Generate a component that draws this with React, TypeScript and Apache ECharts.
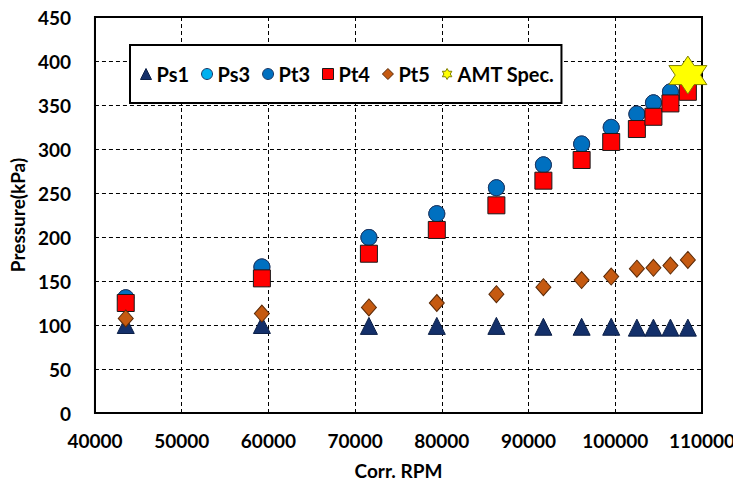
import React, { useEffect, useRef } from "react";
import * as echarts from "echarts";

const rpm = [43550, 59250, 71590, 79420, 86290, 91710, 96120, 99530, 102490, 104400, 106360, 108370];
const ps1 = [100, 100, 99, 99, 99, 98, 98, 98, 97, 97, 97, 97];
const ps3 = [131, 166, 199.5, 226.5, 256, 282, 305.7, 324.6, 339.7, 352.5, 365, 378];
const pt3 = [131, 166, 199.5, 226.5, 256, 282, 305.7, 324.6, 339.7, 352.5, 365, 378];
const pt4 = [125, 153, 181, 208, 236, 264, 287.5, 308, 322.7, 336.6, 351.8, 365];
const pt5 = [107.5, 113, 120, 125, 135, 143, 151, 155, 164, 165, 167.5, 174];
const amtRpm = [108370];
const amtVal = [384];

const xTicks = [40000, 50000, 60000, 70000, 80000, 90000, 100000, 110000];
const yTicks = [0, 50, 100, 150, 200, 250, 300, 350, 400, 450];

const STAR =
  "path://M10,0 L12.887,5 L18.66,5 L15.774,10 L18.66,15 L12.887,15 L10,20 L7.113,15 L1.34,15 L4.226,10 L1.34,5 L7.113,5 Z";

const FONT = "Lato";

function pairs(xs: number[], ys: number[]) {
  return xs.map((x, i) => [x, ys[i]]);
}

export default function App() {
  const ref = useRef<HTMLDivElement>(null);
  useEffect(() => {
    const chart = echarts.init(ref.current!, null, { renderer: "svg" });
    const mk = (name: string, data: number[][], symbol: string, size: any, color: string, border: string) => ({
      name,
      type: "scatter",
      data,
      symbol,
      symbolSize: size,
      itemStyle: { color, borderColor: border, borderWidth: 1, opacity: 1 },
      emphasis: { disabled: true },
    });
    chart.setOption({
      animation: false,
      backgroundColor: "#ffffff",
      textStyle: { fontFamily: FONT },
      grid: {
        left: 92,
        right: 39,
        top: 17,
        bottom: 75,
        show: true,
        borderColor: "#000",
        borderWidth: 2,
        backgroundColor: "transparent",
      },
      legend: {
        left: 130,
        top: 45,
        padding: [19, 7, 19, 10],
        itemGap: 12,
        itemWidth: 11,
        itemHeight: 11,
        itemStyle: { borderWidth: 1 },
        borderColor: "#000",
        borderWidth: 2,
        backgroundColor: "#fff",
        textStyle: { fontFamily: FONT, fontWeight: "bold", fontSize: 20, color: "#000" },
        data: ["Ps1", "Ps3", "Pt3", "Pt4", "Pt5", "AMT Spec."],
      },
      xAxis: {
        type: "value",
        min: 40000,
        max: 110000,
        interval: 10000,
        name: "Corr. RPM",
        nameLocation: "middle",
        nameGap: 48,
        nameTextStyle: { fontFamily: FONT, fontWeight: "bold", fontSize: 19, color: "#000" },
        axisLine: { show: true, lineStyle: { color: "#000", width: 2 } },
        axisTick: { show: false },
        axisLabel: {
          fontFamily: FONT,
          fontWeight: "bold",
          fontSize: 19,
          color: "#000",
          margin: 18,
          formatter: (v: number) => (xTicks.includes(v) ? String(v) : ""),
        },
        splitLine: { show: true, lineStyle: { color: "#000", width: 1, type: [4, 3] } },
      },
      yAxis: {
        type: "value",
        min: 0,
        max: 450,
        interval: 50,
        name: "Pressure(kPa)",
        nameLocation: "middle",
        nameGap: 66,
        nameTextStyle: { fontFamily: FONT, fontWeight: "bold", fontSize: 19, color: "#000" },
        axisLine: { show: true, lineStyle: { color: "#000", width: 2 } },
        axisTick: { show: false },
        axisLabel: {
          fontFamily: FONT,
          fontWeight: "bold",
          fontSize: 19,
          color: "#000",
          margin: 24,
          formatter: (v: number) => (yTicks.includes(v) ? String(v) : ""),
        },
        splitLine: { show: true, lineStyle: { color: "#000", width: 1, type: [4, 3] } },
      },
      series: [
        mk("Ps1", pairs(rpm, ps1), "triangle", [17, 17], "#14306A", "#0B1F47"),
        mk("Ps3", pairs(rpm, ps3), "circle", 16, "#00B0F0", "#1F3864"),
        mk("Pt3", pairs(rpm, pt3), "circle", 16, "#0070C0", "#1F3864"),
        mk("Pt4", pairs(rpm, pt4), "rect", 17, "#FF0000", "#1a1a1a"),
        mk("Pt5", pairs(rpm, pt5), "diamond", [15, 17], "#C55A11", "#5a2a08"),
        mk("AMT Spec.", pairs(amtRpm, amtVal), STAR, [38, 38], "#FFFF00", "#7F7F00"),
      ],
    });
    return () => chart.dispose();
  }, []);
  return <div ref={ref} style={{ width: 741, height: 488, margin: -8 }} />;
}
